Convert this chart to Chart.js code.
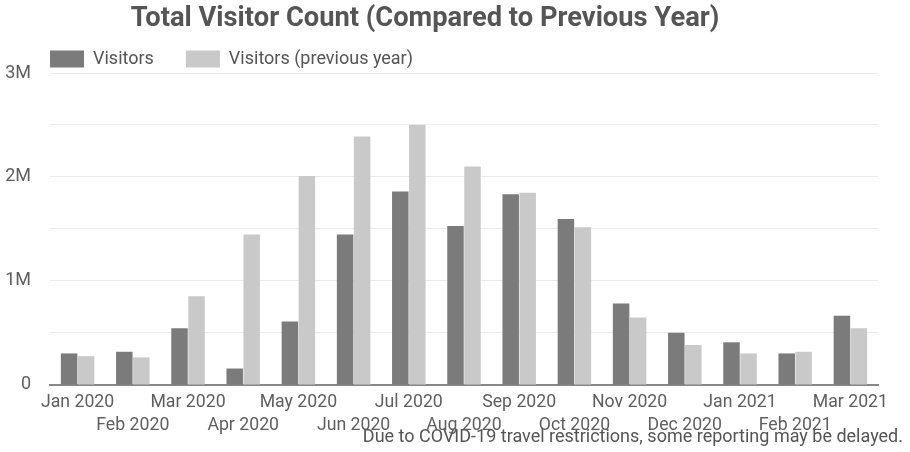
<!DOCTYPE html>
<html><head><meta charset="utf-8">
<script src="https://cdn.jsdelivr.net/npm/chart.js@4/dist/chart.umd.min.js"></script>
<style>html,body{margin:0;padding:0;background:#fff;overflow:hidden}#wrap{width:910px;height:452px;position:relative}</style>
</head><body><div id="wrap"><canvas id="c"></canvas></div>
<script>
const chartTitle = 'Total Visitor Count (Compared to Previous Year)';
const footnote = 'Due to COVID-19 travel restrictions, some reporting may be delayed.';
const seriesNames = ['Visitors', 'Visitors (previous year)'];
const months = ['Jan 2020','Feb 2020','Mar 2020','Apr 2020','May 2020','Jun 2020','Jul 2020','Aug 2020','Sep 2020','Oct 2020','Nov 2020','Dec 2020','Jan 2021','Feb 2021','Mar 2021'];
const visitors = [303000, 319000, 545000, 158000, 610000, 1448000, 1861000, 1529000, 1835000, 1597000, 784000, 503000, 410000, 303000, 665000];
const visitorsPrev = [277000, 265000, 852000, 1448000, 2010000, 2390000, 2500000, 2100000, 1848000, 1516000, 648000, 384000, 303000, 319000, 545000];
const yTickValues = [0, 1000000, 2000000, 3000000];
const yTickLabels = ['0', '1M', '2M', '3M'];

Chart.defaults.font.family = 'Roboto';

const titlePlugin = {
  id: 'titleText',
  afterLayout(chart) {
    // legend starts at the plot's left edge, as in the reference
    if (chart.legend) { chart.legend.left += 13; chart.legend.right += 13; }
  },
  afterDraw(chart) {
    const ctx = chart.ctx;
    ctx.save();
    ctx.font = 'bold 27.3px Roboto';
    ctx.fillStyle = '#555555';
    ctx.textAlign = 'center';
    ctx.textBaseline = 'middle';
    ctx.fillText(chartTitle, 425, 19);
    ctx.restore();
  }
};

new Chart(document.getElementById('c'), {
  type: 'bar',
  data: {
    labels: months,
    datasets: [
      { label: seriesNames[0], data: visitors, backgroundColor: '#7b7b7b', categoryPercentage: 0.616, barPercentage: 0.97 },
      { label: seriesNames[1], data: visitorsPrev, backgroundColor: '#c9c9c9', categoryPercentage: 0.616, barPercentage: 0.97 }
    ]
  },
  options: {
    responsive: true,
    maintainAspectRatio: false,
    animation: false,
    layout: { padding: { top: 18, left: 5, right: 7, bottom: 0 } },
    plugins: {
      title: { display: false },
      subtitle: {
        display: true, text: footnote, position: 'bottom', align: 'end',
        color: '#555555', font: { size: 18, weight: 'normal', lineHeight: 1.2 },
        padding: { top: -17.0, bottom: 4.2 }
      },
      legend: {
        display: true, position: 'top', align: 'start', maxHeight: 55,
        labels: { boxWidth: 34, boxHeight: 17, padding: 32, color: '#555555', font: { size: 18 } }
      },
      tooltip: { enabled: false }
    },
    scales: {
      x: {
        grid: { display: true, drawOnChartArea: false, drawTicks: false },
        border: { display: true, color: '#888888', width: 2 },
        ticks: {
          autoSkip: false, maxRotation: 0, minRotation: 0, padding: 7,
          color: '#5f5f5f', font: { size: 17.7, lineHeight: 1.25 },
          callback: function(v, i) { return i % 2 ? ['', months[i]] : months[i]; }
        }
      },
      y: {
        min: 0, max: 3000000,
        afterFit: function(s) { s.width = 45; },
        grid: { drawTicks: false, color: (c) => (c.tick && c.tick.value === 0) ? 'rgba(0,0,0,0)' : '#ebebeb', lineWidth: 1 },
        border: { display: false },
        ticks: {
          stepSize: 500000, padding: 19, color: '#5f5f5f', font: { size: 18 },
          callback: function(v) { const k = yTickValues.indexOf(v); return k >= 0 ? yTickLabels[k] : ''; }
        }
      },
      y2: {
        position: 'right', display: true,
        afterFit: function(s) { s.width = 25; },
        grid: { display: false }, border: { display: false }, ticks: { display: false }
      }
    }
  },
  plugins: [titlePlugin]
});
</script></body></html>
